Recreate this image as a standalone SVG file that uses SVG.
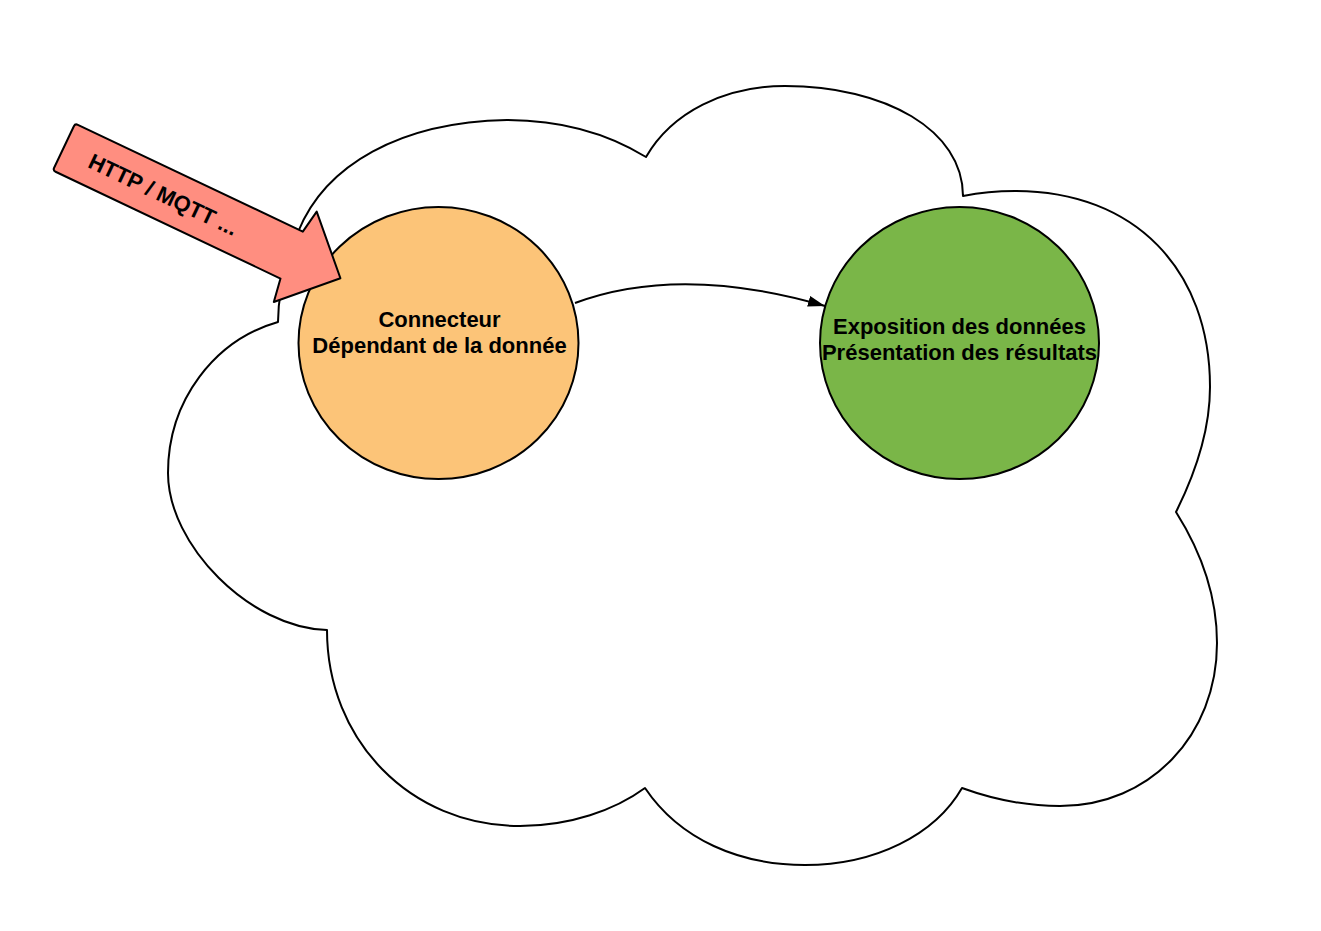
<svg xmlns="http://www.w3.org/2000/svg" width="1321" height="931" viewBox="0 0 1321 931">
<style>
.outline{stroke:#000;stroke-width:2;stroke-linejoin:round}
.lbl{font-family:"Liberation Sans",Arial,sans-serif;font-weight:bold;font-size:22px;fill:#000;text-anchor:middle}
.conn{fill:none;stroke:#000;stroke-width:2}
</style>
<defs>
<marker id="ah" markerUnits="userSpaceOnUse" markerWidth="20" markerHeight="14" refX="17" refY="5.5" orient="auto">
<path d="M0,0 L17,5.5 L0,11 Z" fill="#000"/>
</marker>
</defs>
<rect width="1321" height="931" fill="#fff"/>
<g id="cloud">
<path class="outline" fill="#fff" d="M278,322 C215,340 168,400 168,473 C168,545 250,628 327,630 C327,740 410,826 520,826 C570,826 615,810 645,788 C680,840 740,865 805,865 C875,865 935,835 962,788 C995,800 1030,806 1060,806 C1150,806 1217,735 1217,643 C1217,595 1200,550 1176,512 C1197,470 1210,430 1210,387 C1210,270 1135,191 1015,191 C995,191 978,193 963,196 C963,130 885,86 785,86 C725,86 672,112 646,157 C605,132 560,120 507,120 C400,122 325,165 298,232 C285,265 278,295 278,322 Z"/>
</g>
<g id="connectors">
<path class="conn" d="M575,303 Q680,264 825,306" marker-end="url(#ah)"/>
</g>
<g id="node-connecteur">
<ellipse class="outline" cx="438.5" cy="343" rx="140" ry="136" fill="#FCC478"/>
<text class="lbl" x="439.5" y="327">Connecteur</text>
<text class="lbl" x="439.5" y="353">Dépendant de la donnée</text>
</g>
<g id="node-exposition">
<ellipse class="outline" cx="959.5" cy="343" rx="139.5" ry="136" fill="#7AB648"/>
<text class="lbl" x="959.5" y="334">Exposition des données</text>
<text class="lbl" x="959.5" y="360">Présentation des résultats</text>
</g>
<g id="node-http-arrow" transform="translate(64,147) rotate(25.4)">
<path class="outline" fill="#FF8E80" d="M3,-26 L252,-26 L256,-50 L306,0 L256,50 L252,26 L3,26 Q0,26 0,23 L0,-23 Q0,-26 3,-26 Z"/>
<text class="lbl" x="110" y="8">HTTP / MQTT ...</text>
</g>
</svg>
